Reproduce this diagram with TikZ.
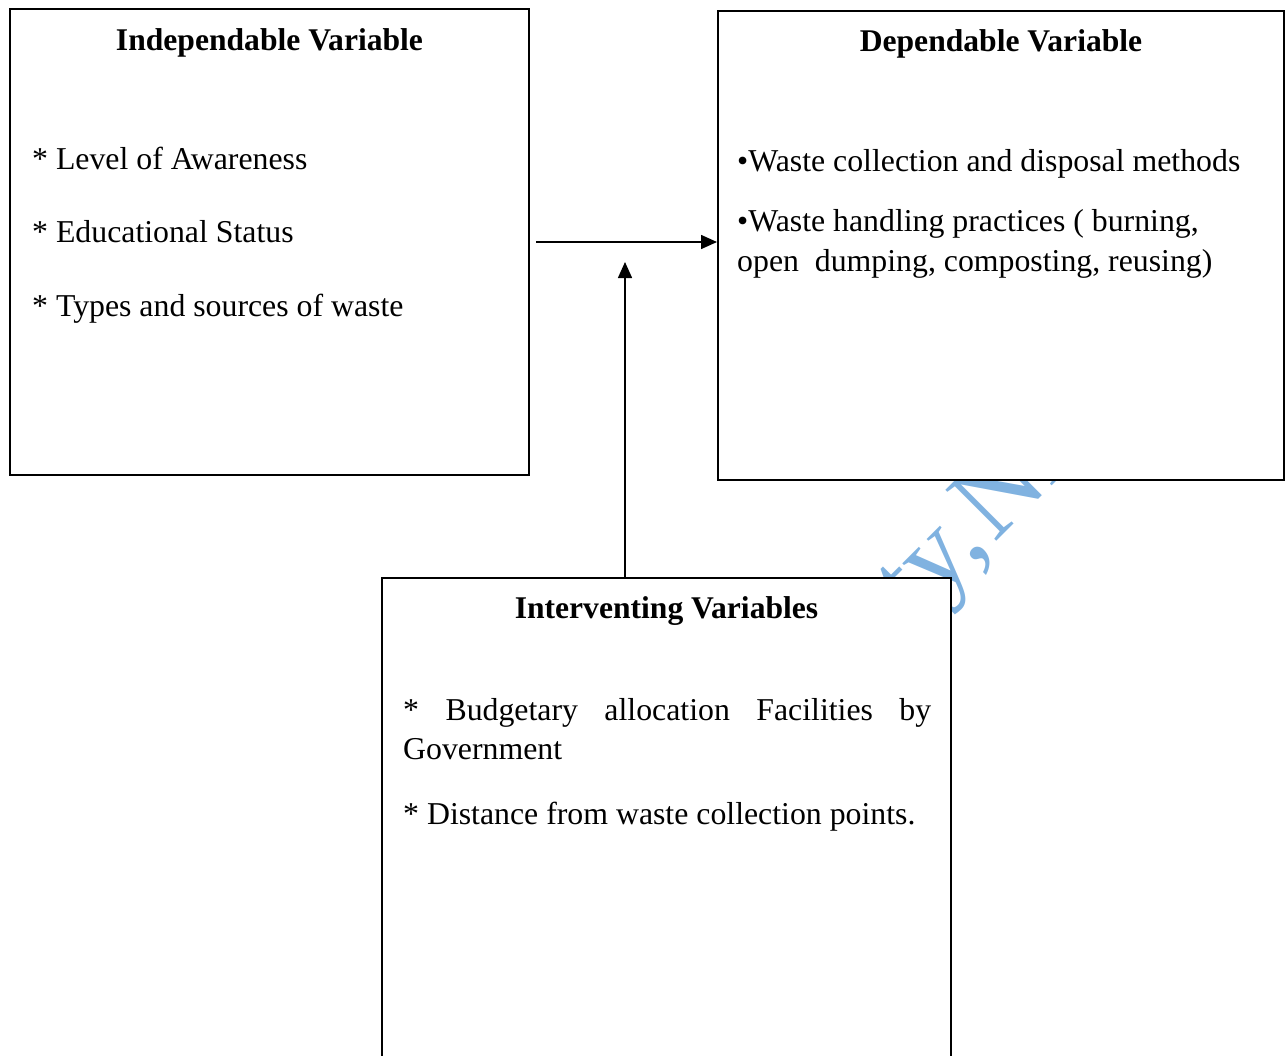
\documentclass[tikz,border=0pt]{standalone}
\usepackage{fontspec}
\setmainfont{Liberation Serif}
\usetikzlibrary{arrows.meta}
\definecolor{wm}{RGB}{128,178,224}
\begin{document}
\begin{tikzpicture}[x=1pt,y=-1pt,
  box/.style={draw=black, line width=1.5pt, fill=white, inner sep=0pt, outer sep=0pt},
  txt/.style={anchor=base west, inner sep=0pt, font=\fontsize{31.8}{38}\selectfont},
  head/.style={anchor=base, inner sep=0pt, font=\fontsize{31.6}{38}\selectfont\bfseries},
  arr/.style={line width=1.5pt, -{Triangle[length=16pt,width=14pt]}},
  wmark/.style={rotate=45, anchor=base east, inner sep=0pt, text=wm, font=\fontsize{110}{110}\selectfont}]
\useasboundingbox (0,0) rectangle (1285,1055);
% watermark (mostly hidden behind the boxes)
\node[wmark] (wm) at (1111.5,426.5) {ity,\hspace{0.05em}Nig};
% boxes
\node[box, minimum width=519pt, minimum height=466pt] (lbox) at (269.5,242) {};
\node[box, minimum width=566pt, minimum height=469pt] (rbox) at (1001,245.5) {};
\node[box, minimum width=569pt, minimum height=500pt] (bbox) at (666.5,828) {};
% left texts
\node[head] (lhead) at (269.5,50) {Independable Variable};
\node[txt] (l1) at (32,169) {* Level of Awareness};
\node[txt] (l2) at (32,242) {* Educational Status};
\node[txt] (l3) at (32,316) {* Types and sources of waste};
% right texts
\node[head] (rhead) at (1001,51) {Dependable Variable};
\node[txt] (r1) at (737,171) {•Waste collection and disposal methods};
\node[txt] (r2) at (737,231) {•Waste handling practices ( burning,};
\node[txt] (r3) at (737,271) {open\hspace{0.5em}dumping, composting, reusing)};
% bottom texts
\node[head] (bhead) at (666.5,618) {Interventing Variables};
\node[txt] (b1) at (403,720) {\hbox to 528pt{*\hfill Budgetary\hfill allocation\hfill Facilities\hfill by}};
\node[txt] (b2) at (403,759) {Government};
\node[txt] (b3) at (403,824) {* Distance from waste collection points.};
% connectors
\coordinate (hstart) at (536,242);
\coordinate (vtip) at (625,262);
\draw[arr, shorten >=1pt] (hstart) -- (hstart -| rbox.west);
\draw[arr] (bbox.north -| vtip) -- (vtip);
\end{tikzpicture}
\end{document}
